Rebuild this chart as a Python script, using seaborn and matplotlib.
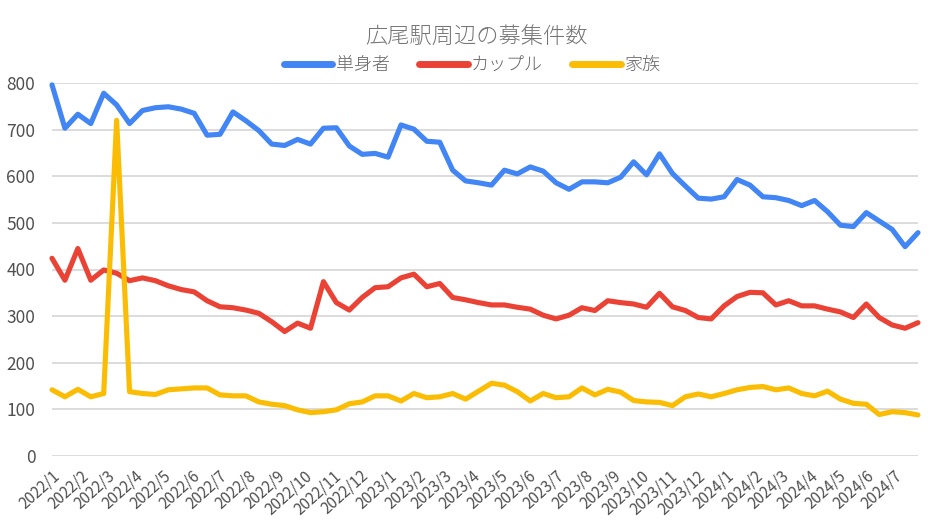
import matplotlib
matplotlib.use("Agg")
import matplotlib.pyplot as plt
import matplotlib.dates as mdates
import numpy as np
import pandas as pd
import seaborn as sns

start_date = "2022-01-01"
n_points = 68
step = "14D"

single = [796, 703, 733, 713, 778, 753, 713, 741, 747, 749, 744, 735, 688, 690, 738, 719,
          698, 669, 666, 679, 669, 703, 704, 665, 647, 649, 641, 710, 701, 675, 673, 613,
          590, 586, 581, 613, 605, 620, 611, 586, 572, 588, 588, 586, 598, 631, 603, 648,
          606, 579, 553, 551, 556, 593, 581, 556, 554, 548, 537, 548, 524, 495, 492, 522,
          504, 486, 449, 479]
couple = [424, 377, 445, 377, 399, 392, 376, 382, 376, 365, 357, 352, 333, 320, 318, 313,
          306, 288, 267, 285, 274, 374, 329, 313, 340, 361, 363, 382, 390, 363, 370, 340,
          335, 329, 324, 324, 319, 315, 302, 294, 302, 318, 312, 333, 329, 326, 319, 349,
          320, 312, 297, 294, 322, 342, 351, 350, 324, 333, 322, 322, 315, 309, 297, 326,
          297, 281, 274, 286]
family = [142, 127, 143, 127, 134, 720, 138, 134, 132, 142, 144, 146, 146, 131, 129, 129,
          116, 111, 108, 99, 93, 95, 99, 112, 116, 129, 129, 118, 134, 125, 127, 134,
          122, 139, 156, 152, 138, 118, 134, 125, 127, 146, 131, 143, 137, 119, 116, 115,
          108, 127, 133, 127, 134, 142, 147, 149, 142, 146, 134, 129, 139, 122, 113, 111,
          89, 95, 93, 88]

series_names = ["単身者", "カップル", "家族"]
colors = ["#4285F4", "#EA4335", "#FBBC04"]
title = "広尾駅周辺の募集件数"
yticks = [0, 100, 200, 300, 400, 500, 600, 700, 800]

dates = pd.date_range(start_date, periods=n_points, freq=step)
df = pd.DataFrame({
    "date": np.tile(dates, 3),
    "value": single + couple + family,
    "series": np.repeat(series_names, n_points),
})

sns.set_theme(style="white")
plt.rcParams["font.family"] = ["Noto Sans CJK JP", "DejaVu Sans"]

fig = plt.figure(figsize=(9.45, 5.31), dpi=100)
ax = fig.add_axes([52 / 945, 1 - 456 / 531, (918 - 52) / 945, (456 - 83) / 531])

sns.lineplot(data=df, x="date", y="value", hue="series", hue_order=series_names,
             palette=colors, linewidth=3.7, ax=ax, legend=False, clip_on=False,
             solid_joinstyle="round", solid_capstyle="round")

ax.set_ylim(0, 800)
ax.set_xlim(dates[0], dates[-1])
ax.set_yticks(yticks)
ax.yaxis.grid(True, color="#d9d9d9", linewidth=1.3)
ax.set_axisbelow(True)
for s in ax.spines.values():
    s.set_visible(False)
ax.set_xlabel("")
ax.set_ylabel("")

ax.xaxis.set_major_locator(mdates.MonthLocator())
ax.xaxis.set_major_formatter(mdates.DateFormatter("%Y/%-m"))
ax.tick_params(axis="x", length=0, pad=8, labelsize=11, labelcolor="#505050")
ax.tick_params(axis="y", length=0, pad=12, labelsize=12.5, labelcolor="#505050")
for lbl in ax.get_xticklabels():
    lbl.set_rotation(42)
    lbl.set_ha("right")
    lbl.set_rotation_mode("anchor")

fig.text(476 / 945, 1 - 37 / 531, title, ha="center", va="center",
         fontsize=16, color="#757575", fontweight="light")

handles = [plt.Line2D([0], [0], color=c, linewidth=5, solid_capstyle="round") for c in colors]
leg = fig.legend(handles, series_names, loc="center", bbox_to_anchor=(472 / 945, 1 - 65 / 531),
                 ncol=3, frameon=False, handlelength=2.7, handletextpad=0.2,
                 columnspacing=1.6, prop={"size": 13, "weight": "light"})
for t in leg.get_texts():
    t.set_color("#666666")

fig.savefig("out.png", dpi=100)
